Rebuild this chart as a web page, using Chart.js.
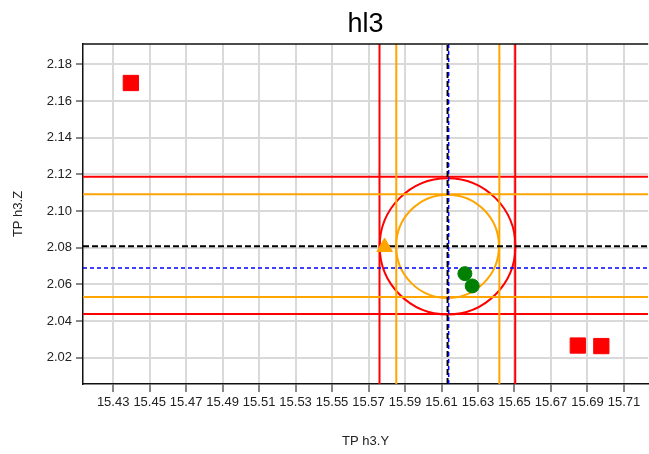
<!DOCTYPE html>
<html><head><meta charset="utf-8">
<script src="https://cdn.jsdelivr.net/npm/chart.js@4/dist/chart.umd.min.js"></script>
<style>html,body{margin:0;padding:0;overflow:hidden;background:#fff;width:649px;height:454px}</style>
</head><body>
<canvas id="c" width="660" height="454" style="display:block;width:660px;height:454px"></canvas>
<script>
const chartTitle = 'hl3';
const xAxisLabel = 'TP h3.Y';
const yAxisLabel = 'TP h3.Z';
const xTicks = [15.43,15.45,15.47,15.49,15.51,15.53,15.55,15.57,15.59,15.61,15.63,15.65,15.67,15.69,15.71];
const yTicks = [2.02,2.04,2.06,2.08,2.10,2.12,2.14,2.16,2.18];
const xRange = [15.41347, 15.72329];
const yRange = [2.00561, 2.19107];

const redSquaresX = [15.4397, 15.6847, 15.6976];
const redSquaresY = [2.1698, 2.0266, 2.0263];
const greenPointsX = [15.6228, 15.6268];
const greenPointsY = [2.0658, 2.0591];
const trianglePointX = [15.5788];
const trianglePointY = [2.0803];

const nominalX = [15.6133];
const nominalY = [2.0807];
const meanX = [15.6139];
const meanY = [2.0689];
const outerLimitX = [15.5760, 15.6504];
const outerLimitY = [2.0438, 2.1187];
const innerLimitX = [15.5852, 15.6417];
const innerLimitY = [2.0531, 2.1091];
const outerRadius = [0.0372];
const innerRadius = [0.0282];

const FONT = '"Liberation Sans", Arial, Helvetica, sans-serif';
Chart.defaults.font.family = FONT;

function pts(xs, ys){ return xs.map((v,i)=>({x:v, y:ys[i]})); }
function vLine(v, color, width, dash, order){
  return {data:[{x:v,y:yRange[0]},{x:v,y:yRange[1]}], showLine:true, borderColor:color, borderWidth:width,
          borderDash:dash||[], pointRadius:0, pointHoverRadius:0, fill:false, order:order};
}
function hLine(v, color, width, dash, order){
  return {data:[{x:xRange[0],y:v},{x:xRange[1],y:v}], showLine:true, borderColor:color, borderWidth:width,
          borderDash:dash||[], pointRadius:0, pointHoverRadius:0, fill:false, order:order};
}

const datasets = [
  {data:pts(redSquaresX, redSquaresY), pointStyle:'rect', pointRadius:10.8, backgroundColor:'#ff0000', borderColor:'#ff0000', borderWidth:1, order:0},
  {data:pts(greenPointsX, greenPointsY), pointStyle:'circle', pointRadius:7, backgroundColor:'#008000', borderColor:'#008000', borderWidth:1, order:0},
  {data:pts(trianglePointX, trianglePointY), pointStyle:'triangle', pointRadius:9, backgroundColor:'#ffa500', borderColor:'#ffa500', borderWidth:1, order:0},
  ...outerLimitX.map(v=>vLine(v,'#ff0000',2,[],14)),
  ...outerLimitY.map(v=>hLine(v,'#ff0000',2,[],14)),
  ...innerLimitX.map(v=>vLine(v,'#ffa500',2,[],13)),
  ...innerLimitY.map(v=>hLine(v,'#ffa500',2,[],13)),
  ...nominalX.map(v=>vLine(v,'#000000',2,[6,3],12)),
  ...nominalY.map(v=>hLine(v,'#000000',2,[6,3],12)),
  ...meanX.map(v=>vLine(v,'#0000ff',1.5,[4,3],11)),
  ...meanY.map(v=>hLine(v,'#0000ff',1.5,[4,3],11)),
];

const overlay = {
  id:'overlay',
  beforeDatasetsDraw(chart){
    const {ctx, chartArea:a, scales:{x,y}} = chart;
    ctx.save();
    ctx.beginPath(); ctx.rect(a.left,a.top,a.right-a.left,a.bottom-a.top); ctx.clip();
    const circles = [[outerRadius[0],'#ff0000'],[innerRadius[0],'#ffa500']];
    for (const [r,col] of circles){
      const cx = x.getPixelForValue(nominalX[0]), cy = y.getPixelForValue(nominalY[0]);
      const rx = Math.abs(x.getPixelForValue(nominalX[0]+r)-cx);
      const ry = Math.abs(y.getPixelForValue(nominalY[0]+r)-cy);
      ctx.beginPath(); ctx.ellipse(cx,cy,rx,ry,0,0,2*Math.PI);
      ctx.strokeStyle = col; ctx.lineWidth = 2; ctx.stroke();
    }
    ctx.restore();
  },
  afterDraw(chart){
    const {ctx, chartArea:a} = chart;
    ctx.save();
    ctx.strokeStyle = '#111'; ctx.lineWidth = 1.5;
    ctx.beginPath(); ctx.moveTo(a.left, a.top); ctx.lineTo(a.right, a.top); ctx.stroke();
    ctx.fillStyle = '#000'; ctx.font = '27px ' + FONT;
    ctx.textAlign = 'center'; ctx.textBaseline = 'alphabetic';
    ctx.fillText(chartTitle, (a.left+a.right)/2, 31.7);
    ctx.restore();
  }
};

new Chart(document.getElementById('c'), {
  type:'scatter',
  data:{datasets},
  plugins:[overlay],
  options:{
    responsive:false, animation:false, devicePixelRatio:1,
    layout:{padding:{top:44,left:0,right:9,bottom:0}},
    plugins:{legend:{display:false}, tooltip:{enabled:false}, title:{display:false}},
    scales:{
      x:{type:'linear', position:'bottom', min:xRange[0], max:xRange[1],
        afterBuildTicks:s=>{ s.ticks = xTicks.map(v=>({value:v})); },
        afterFit:s=>{ s.height = 70; },
        ticks:{font:{size:13}, color:'#222', padding:3, maxRotation:0, minRotation:0, autoSkip:false, callback:v=>Number(v).toFixed(2)},
        grid:{color:'#d9d9d9', lineWidth:2, tickLength:8, tickColor:'#111', tickWidth:1},
        border:{display:true, color:'#111', width:1.5},
        title:{display:true, text:xAxisLabel, font:{size:13}, color:'#222', padding:{top:0,bottom:5}}
      },
      y:{type:'linear', position:'left', min:yRange[0], max:yRange[1],
        afterBuildTicks:s=>{ s.ticks = yTicks.map(v=>({value:v})); },
        afterFit:s=>{ s.width = 83; },
        ticks:{font:{size:13}, color:'#222', padding:4, autoSkip:false, callback:v=>Number(v).toFixed(2)},
        grid:{color:'#d9d9d9', lineWidth:2, tickLength:7, tickColor:'#111', tickWidth:1},
        border:{display:true, color:'#111', width:1.5},
        title:{display:true, text:yAxisLabel, font:{size:13}, color:'#222', padding:{top:11,bottom:0}}
      }
    }
  }
});
</script>
</body></html>
